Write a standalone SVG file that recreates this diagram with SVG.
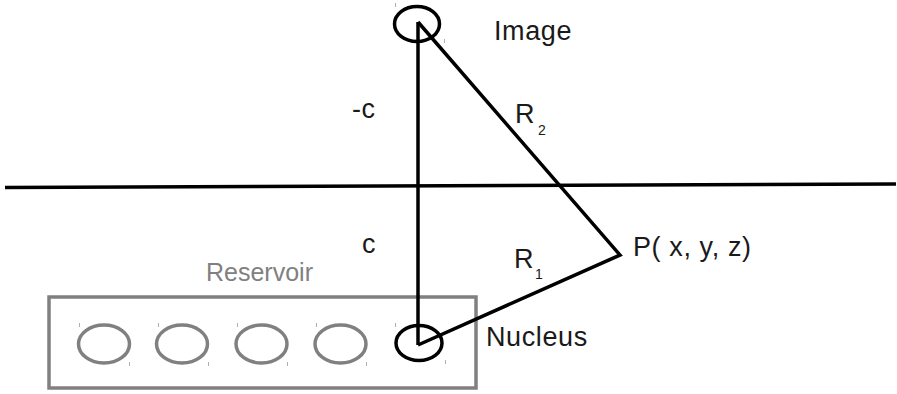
<svg xmlns="http://www.w3.org/2000/svg" width="897" height="394" viewBox="0 0 897 394">
  <style>
    .ln { stroke: #000; stroke-width: 3.5; fill: none; stroke-linecap: butt; stroke-linejoin: miter; }
    .el { fill: none; stroke: #000; stroke-width: 3.5; }
    .gel { fill: none; stroke: #808080; stroke-width: 3.5; }
    .tick { stroke: #b0b0b0; stroke-width: 1; }
    .t { font-family: "Liberation Sans", Arial, sans-serif; font-size: 27px; letter-spacing: 0.6px; fill: #1a1a1a; }
    .sub { font-family: "Liberation Sans", Arial, sans-serif; font-size: 14px; fill: #1a1a1a; }
    .gt { font-family: "Liberation Sans", Arial, sans-serif; font-size: 25px; fill: #808080; }
  </style>
  <rect width="897" height="394" fill="#fff"/>

  <g id="reservoir">
    <rect x="49" y="297" width="427" height="91" fill="none" stroke="#808080" stroke-width="3.5"/>
    <text class="gt" x="206" y="281">Reservoir</text>
    <ellipse class="gel" cx="104" cy="344" rx="25.5" ry="19"/>
    <ellipse class="gel" cx="182" cy="344" rx="25.5" ry="19"/>
    <ellipse class="gel" cx="261.5" cy="344" rx="25.5" ry="19"/>
    <ellipse class="gel" cx="340.5" cy="344" rx="25.5" ry="19"/>
    <g class="tick">
      <line x1="79.5" y1="323" x2="79.5" y2="327"/><line x1="129.5" y1="362" x2="129.5" y2="366"/>
      <line x1="158.5" y1="323" x2="158.5" y2="327"/><line x1="208.5" y1="362" x2="208.5" y2="366"/>
      <line x1="237.5" y1="323" x2="237.5" y2="327"/><line x1="287.5" y1="362" x2="287.5" y2="366"/>
      <line x1="316.5" y1="323" x2="316.5" y2="327"/><line x1="366.5" y1="362" x2="366.5" y2="366"/>
      <line x1="395.5" y1="323" x2="395.5" y2="327"/><line x1="445.5" y1="360" x2="445.5" y2="364"/>
    </g>
  </g>

  <g id="connectors">
    <line class="ln" x1="5" y1="187.5" x2="896" y2="184"/>
    <line class="ln" x1="418" y1="22" x2="418" y2="345"/>
    <polyline class="ln" points="418,22 620,255 418,345"/>
  </g>

  <g id="image">
    <ellipse class="el" cx="417" cy="24" rx="22.5" ry="17.5"/>
    <line class="tick" x1="395.5" y1="3" x2="395.5" y2="7"/>
    <line class="tick" x1="444.5" y1="39" x2="444.5" y2="43"/>
    <text class="t" x="494" y="40">Image</text>
  </g>

  <g id="nucleus">
    <ellipse class="el" cx="419" cy="343" rx="23" ry="17.5"/>
    <text class="t" x="486" y="346">Nucleus</text>
  </g>

  <g id="point">
    <text class="t" x="633" y="256">P( x, y, z)</text>
  </g>

  <g id="labels">
    <text class="t" x="352" y="118">-c</text>
    <text class="t" x="362" y="253">c</text>
    <text class="t" x="515" y="123">R</text>
    <text class="sub" x="538" y="135">2</text>
    <text class="t" x="514" y="268">R</text>
    <text class="sub" x="535" y="279">1</text>
  </g>
</svg>
